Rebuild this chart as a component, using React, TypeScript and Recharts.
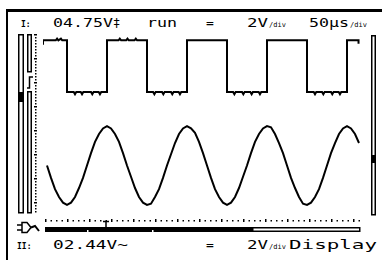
import { LineChart, Line, XAxis, YAxis } from 'recharts';

// scope screen: 10 div x 50 µs across
const TIME_DOMAIN = [0, 500];
const SAMPLE_US = 6.25;

// channel I, square wave, [time µs, volts]
const ch1Points: [number, number][] = [
  [0, 4.2], [0, 4.6], [20, 4.6], [22, 4.75], [24, 4.6], [28, 4.75], [30, 4.6], [37.5, 4.6], [37.5, 0],
  [48, 0], [50, -0.2], [52, 0], [59, 0], [61, -0.2], [63, 0], [75, 0], [77, -0.2], [79, 0], [87, 0], [89, -0.2], [91, 0], [100, 0],
  [100, 4.6], [118, 4.6], [120, 4.75], [122, 4.6], [130, 4.6], [132, 4.75], [134, 4.6], [143, 4.6], [145, 4.75], [147, 4.6], [162.5, 4.6], [162.5, 0],
  [172, 0], [174, -0.2], [176, 0], [186, 0], [188, -0.2], [190, 0], [200, 0], [202, -0.2], [204, 0], [212, 0], [214, -0.2], [216, 0], [225, 0],
  [225, 4.6], [287.5, 4.6], [287.5, 0],
  [297, 0], [299, -0.2], [301, 0], [311, 0], [313, -0.2], [315, 0], [324, 0], [326, -0.2], [328, 0], [337, 0], [339, -0.2], [341, 0], [350, 0],
  [350, 4.6], [412.5, 4.6], [412.5, 0],
  [423, 0], [425, -0.2], [427, 0], [436, 0], [438, -0.2], [440, 0], [450, 0], [452, -0.2], [454, 0], [462, 0], [464, -0.2], [466, 0], [475, 0],
  [475, 4.6], [493, 4.6], [493, 4.3],
];

// channel II, sine wave, volts per 6.25 µs sample (first sample at 6.25 µs)
const ch2Volts = [
  0, -1.1, -2.1, -2.8, -3.3, -3.5, -3.3, -2.8, -2.0, -1.1, 0, 1.1, 2.1, 2.8, 3.3, 3.5, 3.3, 2.8, 2.1, 1.1,
  0, -1.0, -2.0, -2.8, -3.3, -3.5, -3.4, -2.8, -2.1, -1.1, 0, 1.0, 2.0, 2.8, 3.3, 3.5, 3.3, 2.9, 2.1, 1.1,
  0, -1.1, -2.1, -2.8, -3.3, -3.5, -3.3, -2.8, -2.0, -1.0, 0, 1.1, 2.1, 2.8, 3.3, 3.5, 3.4, 2.8, 2.0, 1.1,
  0, -1.1, -2.0, -2.8, -3.4, -3.5, -3.3, -2.8, -2.1, -1.1, 0, 1.1, 2.0, 2.8, 3.3, 3.5, 3.3, 2.8, 2.0,
];

// vertical ranges, 2 V/div over 8 div, offset by each channel's ground marker
const CH1_DOMAIN = [-10.84, 5.16];
const CH2_DOMAIN = [-4.31, 11.69];

const headerTexts = { ch: 'I:', reading: '04.75V', mode: 'run', coupling: '=', volts: '2V', time: '50µs' };
const footerTexts = { ch: 'II:', reading: '02.44V~', coupling: '=', volts: '2V', menu: 'Display' };

const ch1Data = ch1Points.map(([t, v]) => ({ t, v }));
const ch2Data = ch2Volts.map((v, i) => ({ t: (i + 1) * SAMPLE_US, v }));

const FONT = 'DejaVu Sans Mono';

function Decorations() {
  const leftDots = [];
  for (let y = 34, i = 0; y <= 213; y += 3, i++) {
    leftDots.push(<rect key={'l' + i} x={i % 8 === 0 ? 34 : 35} y={y} width={i % 8 === 0 ? 3 : 1.5} height={1.5} fill="#000" />);
  }
  const bottomDots = [];
  for (let x = 45, i = 0; x <= 360; x += 5.5, i++) {
    bottomDots.push(<rect key={'b' + i} x={x} y={i % 4 === 0 ? 219 : 220} width={1.5} height={i % 4 === 0 ? 3 : 1.5} fill="#000" />);
  }
  return (
    <g>
      {/* frame */}
      <rect x={6} y={9} width={2} height={251} fill="#000" />
      <rect x={6} y={9} width={376} height={3} fill="#000" />
      {/* left level bars */}
      <rect x={18.75} y={34.75} width={4.5} height={178} fill="#fff" stroke="#000" strokeWidth={1.5} />
      <rect x={19} y={92} width={4} height={10} fill="#000" />
      <rect x={27.75} y={34.75} width={3.5} height={37} fill="#fff" stroke="#000" strokeWidth={1.5} />
      <rect x={27.75} y={91.75} width={3.5} height={121} fill="#fff" stroke="#000" strokeWidth={1.5} />
      <path d="M27 88 H29.5 V77 H33" fill="none" stroke="#000" strokeWidth={1.5} />
      {leftDots}
      {/* right level bar */}
      <rect x={371.75} y={35.75} width={3.5} height={179} fill="#fff" stroke="#000" strokeWidth={1.5} />
      <rect x={372} y={155} width={3} height={8} fill="#000" />
      {/* bottom time bar */}
      {bottomDots}
      <path d="M103 221.5 H109 M106 221.5 V227" stroke="#000" strokeWidth={1.5} />
      <rect x={45} y={227} width={207} height={5} fill="#000" />
      <rect x={252.75} y={227.75} width={107} height={3.5} fill="#fff" stroke="#000" strokeWidth={1.5} />
      <rect x={87} y={230} width={1.5} height={2} fill="#fff" />
      <rect x={152} y={230} width={1.5} height={2} fill="#fff" />
      {/* probe icon */}
      <path d="M17 225 H22 M17 230 H22" stroke="#000" strokeWidth={1.5} />
      <path d="M22 222.5 H27 L31 227.5 L27 232.5 H22 Z" fill="#fff" stroke="#000" strokeWidth={1.5} />
      <path d="M31 227.5 L35 226 L39 231" fill="none" stroke="#000" strokeWidth={2} />
      {/* header */}
      <g fontFamily={FONT} fill="#000">
        <text x={21} y={27} fontSize={8} fontWeight="bold">{headerTexts.ch}</text>
        <text x={53} y={27} fontSize={13} textLength={60} lengthAdjust="spacingAndGlyphs">{headerTexts.reading}</text>
        <text x={113} y={27} fontSize={12}>‡</text>
        <text x={147} y={27} fontSize={13} textLength={30} lengthAdjust="spacingAndGlyphs">{headerTexts.mode}</text>
        <text x={206} y={27} fontSize={13}>{headerTexts.coupling}</text>
        <text x={247} y={27} fontSize={13} textLength={21} lengthAdjust="spacingAndGlyphs">{headerTexts.volts}</text>
        <text x={269} y={27} fontSize={7}>/div</text>
        <text x={309} y={27} fontSize={13} textLength={40} lengthAdjust="spacingAndGlyphs">{headerTexts.time}</text>
        <text x={350} y={27} fontSize={7}>/div</text>
      </g>
      {/* footer */}
      <g fontFamily={FONT} fill="#000">
        <text x={17} y={249} fontSize={8} fontWeight="bold">{footerTexts.ch}</text>
        <text x={53} y={249} fontSize={13} textLength={75} lengthAdjust="spacingAndGlyphs">{footerTexts.reading}</text>
        <text x={206} y={249} fontSize={13}>{footerTexts.coupling}</text>
        <text x={247} y={249} fontSize={13} textLength={21} lengthAdjust="spacingAndGlyphs">{footerTexts.volts}</text>
        <text x={269} y={249} fontSize={7}>/div</text>
        <text x={289} y={249} fontSize={13} textLength={88} lengthAdjust="spacingAndGlyphs">{footerTexts.menu}</text>
      </g>
    </g>
  );
}

export default function App() {
  return (
    <div style={{ position: 'absolute', left: 0, top: 0, width: 384, height: 260, background: '#fff' }}>
      <LineChart width={384} height={260} margin={{ top: 34, right: 21, bottom: 46, left: 43 }}>
        <Decorations />
        <XAxis type="number" dataKey="t" domain={TIME_DOMAIN} allowDataOverflow hide />
        <YAxis yAxisId="ch1" type="number" domain={CH1_DOMAIN} allowDataOverflow hide />
        <YAxis yAxisId="ch2" type="number" domain={CH2_DOMAIN} allowDataOverflow hide />
        <Line yAxisId="ch1" data={ch1Data} dataKey="v" type="linear" stroke="#000" strokeWidth={2} dot={false} isAnimationActive={false} />
        <Line yAxisId="ch2" data={ch2Data} dataKey="v" type="linear" stroke="#000" strokeWidth={2} dot={false} isAnimationActive={false} />
      </LineChart>
    </div>
  );
}
